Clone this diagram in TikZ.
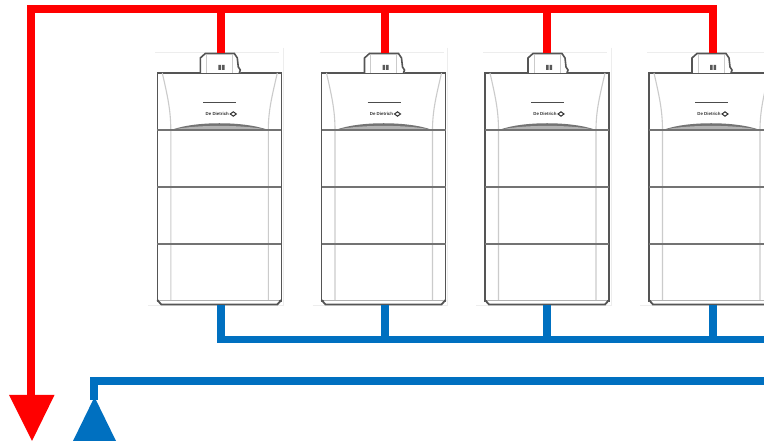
\documentclass[tikz,border=0pt]{standalone}
\usepackage{fontspec}
\setmainfont{Liberation Sans}
\definecolor{pipered}{HTML}{FF0000}
\definecolor{pipeblue}{HTML}{0070C0}
\definecolor{casing}{HTML}{555555}
\definecolor{inner}{HTML}{CBCBCB}
\definecolor{faint}{HTML}{EDEDED}
\tikzset{
  redpipe/.style={draw=pipered,line width=8pt,line cap=butt,line join=miter},
  bluepipe/.style={draw=pipeblue,line width=7.5pt,line cap=butt,line join=miter},
  casingline/.style={draw=casing,line width=1.6pt},
  innerline/.style={draw=inner,line width=1.1pt},
  divider/.style={draw=black!55,line width=1.1pt},
  boilerbox/.style={draw=casing,line width=1.6pt,fill=white,minimum width=124pt,minimum height=228pt,inner sep=0pt,outer sep=0pt},
  module/.style={minimum width=40pt,minimum height=20pt,inner sep=0pt,outer sep=0pt},
  brand/.style={font=\bfseries\fontsize{4.4}{5}\selectfont,inner sep=0pt,text=black!80},
  portnode/.style={inner sep=0pt,outer sep=0pt}
}
% #1 name, #2 centre x, #3 pipe x offset
\newcommand{\boilerunit}[3]{%
  \begin{scope}[shift={(#2,0)}]
    \draw[faint,line width=.7pt] (-64,52) -- (60,52) (64,48) -- (64,306) (-71,305.5) -- (64,305.5);
    \node[boilerbox] (#1) at (0,187) {};
    % control module
    \fill[white] (-19,73) -- (-19,58) -- (-14,53) -- (15,53) -- (19,58) -- (21,73) -- cycle;
    \draw[innerline,line width=.8pt] (-13,55) -- (-13,73) (13,55) -- (13,73);
    \draw[casingline] (-19,73) -- (-19,58) -- (-14,53.5) -- (15,53.5) -- (18,58) -- (19,67) -- (21,70) -- (20,73);
    \node[module] (#1m) at (1,63) {};
    \fill[black!65] (-1,65) rectangle (1.6,70) (2.6,65) rectangle (5.2,70);
    % inner side lines
    \draw[innerline] (-57,73) .. controls (-52,95) and (-48.5,110) .. (-48.5,130) -- (-48.5,301);
    \draw[innerline] (58,73) .. controls (53,95) and (49,110) .. (49,130) -- (49,301);
    % front panel band
    \fill[black!55] (-48,130) .. controls (-25,121) and (25,121) .. (49,130) -- cycle;
    \fill[black!30] (-48,130) .. controls (-25,124.5) and (25,124.5) .. (49,130) -- cycle;
    \draw[divider] (-62,130) -- (62,130) (-62,187) -- (62,187) (-62,244) -- (62,244);
    % logo
    \draw[black!70,line width=.9pt] (-16,102) -- (17,102);
    \node[brand] at (-2,114) {De Dietrich};
    \draw[black!80,line width=1pt] (11,114) -- (14,111.8) -- (17,114) -- (14,116.2) -- cycle;
    % base
    \fill[white] (-62,301) -- (-58,305) -- (57,305) -- (62,301) -- cycle;
    \draw[casingline,line width=1.8pt] (-62,300) -- (-58,304.5) -- (58,304.5) -- (62,300);
    \draw[black!30,line width=.7pt] (-60,300.5) -- (60,300.5);
    \coordinate (#1top) at (#3,53);
    \coordinate (#1bot) at (#3,305);
  \end{scope}%
}
\begin{document}
\begin{tikzpicture}[x=1pt,y=-1pt]
\useasboundingbox (0,0) rectangle (764,443);
\fill[white] (0,0) rectangle (764,443);
\boilerunit{b1}{219.3}{1.5}
\boilerunit{b2}{383.5}{1.5}
\boilerunit{b3}{547}{0}
\boilerunit{b4}{711}{2}
% terminals and free ends
\coordinate (redcorner) at (31,9);
\coordinate (redend) at (713,9);
\coordinate (blueend) at (764,339.5);
\coordinate (retend) at (764,381);
\coordinate (retcorner) at (94,381);
\fill[pipered] (9,395) -- (54.5,395) -- (32,441) -- cycle;
\node[portnode] (supply) at (31,397) {};
\node[portnode] (return) at (94,400) {};
% red supply
\draw[redpipe] (supply.center) -- (redcorner) -- (redend) -- (b4top);
\foreach \u in {b1,b2,b3}{\draw[redpipe] (\u top) -- (\u top |- redend);}
% blue
\draw[bluepipe] (b1bot) -- (b1bot |- blueend) -- (blueend);
\foreach \u in {b2,b3,b4}{\draw[bluepipe] (\u bot) -- (\u bot |- blueend);}
\draw[bluepipe] (return.center) -- (retcorner) -- (retend);
\fill[pipeblue] (73,441) -- (116,441) -- (94.5,397) -- cycle;
\end{tikzpicture}
\end{document}
